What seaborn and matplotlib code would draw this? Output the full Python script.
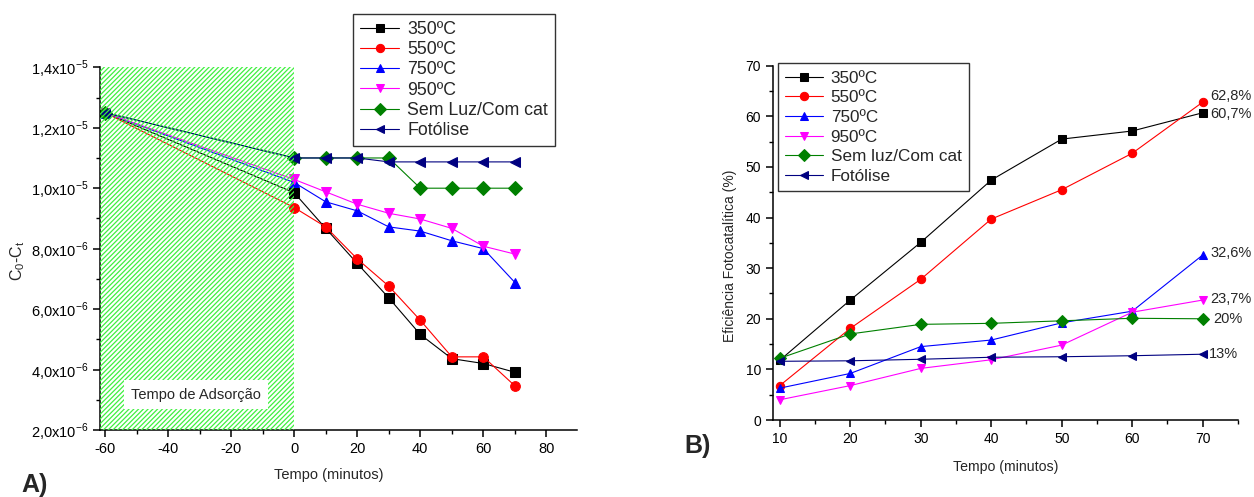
import numpy as np
import pandas as pd
import matplotlib
matplotlib.use("Agg")
import matplotlib.pyplot as plt
from matplotlib.ticker import FixedLocator, MultipleLocator, FuncFormatter
import seaborn as sns

# ---- Panel A: C0 - Ct versus time (adsorption period from -60 to 0 min) ----
tempo_a = [-60, 0, 10, 20, 30, 40, 50, 60, 70]
a_350 = [1.25e-5, 0.985e-5, 8.67e-6, 7.51e-6, 6.37e-6, 5.16e-6, 4.36e-6, 4.20e-6, 3.91e-6]
a_550 = [1.25e-5, 0.936e-5, 8.72e-6, 7.66e-6, 6.76e-6, 5.63e-6, 4.42e-6, 4.42e-6, 3.46e-6]
a_750 = [1.25e-5, 1.019e-5, 9.55e-6, 9.25e-6, 8.72e-6, 8.58e-6, 8.26e-6, 8.00e-6, 6.88e-6]
a_950 = [1.25e-5, 1.029e-5, 9.88e-6, 9.47e-6, 9.17e-6, 8.98e-6, 8.67e-6, 8.08e-6, 7.82e-6]
a_semluz = [1.25e-5, 1.10e-5, 1.10e-5, 1.10e-5, 1.10e-5, 1.00e-5, 1.00e-5, 1.00e-5, 1.00e-5]
a_fotolise = [1.25e-5, 1.10e-5, 1.10e-5, 1.10e-5, 1.087e-5, 1.087e-5, 1.087e-5, 1.087e-5, 1.087e-5]
nomes_a = ["350ºC", "550ºC", "750ºC", "950ºC", "Sem Luz/Com cat", "Fotólise"]

# ---- Panel B: photocatalytic efficiency versus time ----
tempo_b = [10, 20, 30, 40, 50, 60, 70]
b_350 = [11.8, 23.7, 35.1, 47.4, 55.5, 57.1, 60.7]
b_550 = [6.8, 18.1, 27.8, 39.7, 45.5, 52.7, 62.8]
b_750 = [6.3, 9.2, 14.5, 15.8, 19.2, 21.5, 32.6]
b_950 = [4.0, 6.8, 10.2, 11.9, 14.8, 21.3, 23.7]
b_semluz = [12.2, 17.0, 18.9, 19.1, 19.6, 20.1, 20.0]
b_fotolise = [11.6, 11.7, 12.0, 12.4, 12.5, 12.7, 13.0]
nomes_b = ["350ºC", "550ºC", "750ºC", "950ºC", "Sem luz/Com cat", "Fotólise"]

cores = ["#000000", "#ff0000", "#0000ff", "#ff00ff", "#008000", "#000080"]
marcadores = ["s", "o", "^", "v", "D", "<"]

sns.set_style("ticks")
plt.rcParams["font.family"] = ["Liberation Sans", "DejaVu Sans"]
plt.rcParams["mathtext.fontset"] = "custom"
plt.rcParams["mathtext.rm"] = "Liberation Sans"
plt.rcParams["axes.unicode_minus"] = False
plt.rcParams["hatch.linewidth"] = 0.9

fig = plt.figure(figsize=(12.54, 4.97), dpi=100)
ax1 = fig.add_axes([0.0797, 0.1348, 0.3807, 0.7298])
ax2 = fig.add_axes([0.6162, 0.1549, 0.3710, 0.7129])


def estilo_eixo(ax, fs):
    for s in ["top", "right"]:
        ax.spines[s].set_visible(False)
    for s in ["left", "bottom"]:
        ax.spines[s].set_linewidth(1.1)
        ax.spines[s].set_color("black")
    ax.tick_params(which="major", direction="out", length=5, width=1.1,
                   labelsize=fs, colors="black")
    ax.tick_params(which="minor", direction="out", length=3, width=1.0,
                   colors="black")


# ---- draw panel A ----
series_a = [a_350, a_550, a_750, a_950, a_semluz, a_fotolise]
for vals, nome, cor, mk in zip(series_a, nomes_a, cores, marcadores):
    df = pd.DataFrame({"t": tempo_a, "v": vals})
    sns.lineplot(data=df, x="t", y="v", ax=ax1, color=cor, marker=mk,
                 markersize=7, markeredgecolor=cor, linewidth=0.8,
                 label=nome, zorder=2)

ax1.set_xlim(-61.6, 89.8)
ax1.set_ylim(2e-6, 1.4e-5)
ax1.axvspan(-61.6, 0, facecolor="none", edgecolor="#40f040",
            hatch="///////", linewidth=0, zorder=3)
ax1.text(-31.1, 3.17e-6, "Tempo de Adsorção", ha="center", va="center",
         fontsize=10.5, zorder=4,
         bbox=dict(boxstyle="square,pad=0.5", facecolor="white",
                   edgecolor="none"))

ax1.xaxis.set_major_locator(MultipleLocator(20))
ax1.xaxis.set_minor_locator(MultipleLocator(10))
ax1.yaxis.set_major_locator(FixedLocator([2e-6, 4e-6, 6e-6, 8e-6, 1e-5, 1.2e-5, 1.4e-5]))
ax1.yaxis.set_minor_locator(MultipleLocator(1e-6))


def fmt_cientifico(v, pos):
    exp = int(np.floor(np.log10(v) + 1e-9))
    mant = v / 10 ** exp
    return f"{mant:.1f}".replace(".", ",") + "x10" + r"$^{\mathregular{%d}}$" % exp


ax1.yaxis.set_major_formatter(FuncFormatter(fmt_cientifico))
estilo_eixo(ax1, 10.5)
ax1.set_xlabel("Tempo (minutos)", fontsize=10.5)
ax1.xaxis.set_label_coords(0.48, -0.124)
ax1.xaxis.label.set_verticalalignment("center")
ax1.set_ylabel(r"C$_\mathregular{0}$-C$_\mathregular{t}$", fontsize=11.5)
ax1.yaxis.set_label_coords(-0.172, 0.466)
ax1.yaxis.label.set_verticalalignment("center")

h1, l1 = ax1.get_legend_handles_labels()
leg1 = ax1.legend(h1, l1, loc="upper left", bbox_to_anchor=(0.2815, 0.972),
                  bbox_transform=fig.transFigure, borderaxespad=0,
                  fontsize=12.8, frameon=True, fancybox=False, edgecolor="black",
                  handlelength=2.2, labelspacing=0.18, borderpad=0.4,
                  handletextpad=0.45, markerscale=0.85)
leg1.get_frame().set_linewidth(1.0)

# ---- draw panel B ----
series_b = [b_350, b_550, b_750, b_950, b_semluz, b_fotolise]
for vals, nome, cor, mk in zip(series_b, nomes_b, cores, marcadores):
    df = pd.DataFrame({"t": tempo_b, "v": vals})
    sns.lineplot(data=df, x="t", y="v", ax=ax2, color=cor, marker=mk,
                 markersize=6, markeredgecolor=cor, linewidth=0.8,
                 label=nome, zorder=2)

ax2.set_xlim(9, 75)
ax2.set_ylim(0, 70)
ax2.xaxis.set_major_locator(MultipleLocator(10))
ax2.xaxis.set_minor_locator(MultipleLocator(5))
ax2.yaxis.set_major_locator(MultipleLocator(10))
ax2.yaxis.set_minor_locator(MultipleLocator(5))
estilo_eixo(ax2, 10)
ax2.set_xlabel("Tempo (minutos)", fontsize=10.2)
ax2.xaxis.set_label_coords(0.501, -0.133)
ax2.xaxis.label.set_verticalalignment("center")
ax2.set_ylabel("Eficiência Fotocatalítica (%)", fontsize=10)
ax2.yaxis.set_label_coords(-0.092, 0.463)
ax2.yaxis.label.set_verticalalignment("center")

# final-value labels at t = 70 min
deslocamentos = [(8, -1), (8, 6), (8, 2), (8, 1), (11, 0), (6, 0)]
for vals, (dx, dy) in zip(series_b, deslocamentos):
    v = vals[-1]
    txt = (f"{v:.1f}".replace(".", ",") if v != round(v) else f"{int(v)}") + "%"
    ax2.annotate(txt, xy=(tempo_b[-1], v), xytext=(dx, dy),
                 textcoords="offset pixels", ha="left", va="center",
                 fontsize=10.5)

h2, l2 = ax2.get_legend_handles_labels()
leg2 = ax2.legend(h2, l2, loc="upper left", bbox_to_anchor=(0.6202, 0.8732),
                  bbox_transform=fig.transFigure, borderaxespad=0,
                  fontsize=12.3, frameon=True, fancybox=False, edgecolor="black",
                  handlelength=2.2, labelspacing=0.27, borderpad=0.45,
                  handletextpad=0.45)
leg2.get_frame().set_linewidth(1.0)

fig.text(35 / 1254, 1 - 485 / 497, "A)", fontsize=18, fontweight="bold",
         ha="center", va="center")
fig.text(698 / 1254, 1 - 446 / 497, "B)", fontsize=18, fontweight="bold",
         ha="center", va="center")

fig.savefig("out.png", dpi=100, facecolor="white")
